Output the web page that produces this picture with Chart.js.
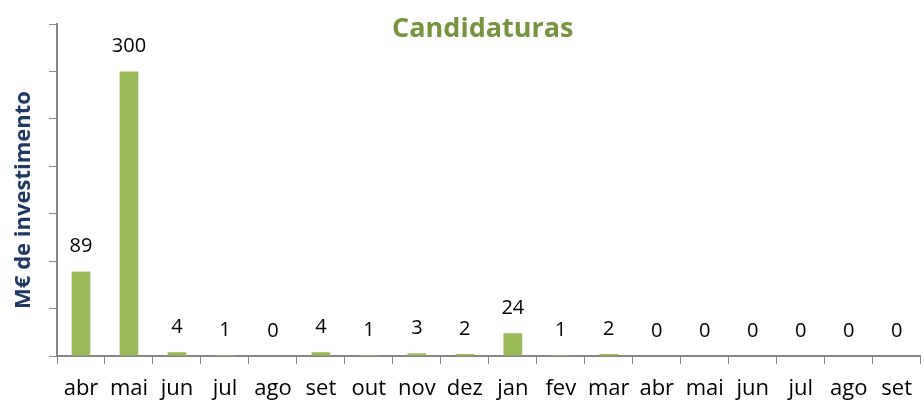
<!DOCTYPE html>
<html><head><meta charset="utf-8">
<script src="https://cdn.jsdelivr.net/npm/chart.js@4/dist/chart.umd.min.js"></script>
<style>html,body{margin:0;padding:0;background:#fff}#wrap{width:924px;height:405px}</style>
</head><body><div id="wrap"><canvas id="c" width="924" height="405"></canvas></div>
<script>
const categories = ["abr","mai","jun","jul","ago","set","out","nov","dez","jan","fev","mar","abr","mai","jun","jul","ago","set"];
const values = [89,300,4,1,0,4,1,3,2,24,1,2,0,0,0,0,0,0];
const yTicks = [0,50,100,150,200,250,300,350];
const titleText = "Candidaturas";
const yTitleText = "M€ de investimento";

const FONT = "'Open Sans', 'Liberation Sans', sans-serif";

const labelsPlugin = {
  id: 'valueLabels',
  afterDatasetsDraw(chart) {
    const ctx = chart.ctx;
    const meta = chart.getDatasetMeta(0);
    ctx.save();
    ctx.fillStyle = '#000';
    ctx.font = "20px " + FONT;
    ctx.textAlign = 'center';
    ctx.textBaseline = 'middle';
    meta.data.forEach((bar, i) => {
      ctx.fillText(String(values[i]), bar.x, bar.y - 25);
    });
    ctx.restore();
  }
};
const titlePlugin = {
  id: 'customTitle',
  afterDraw(chart) {
    const ctx = chart.ctx;
    const a = chart.chartArea;
    ctx.save();
    ctx.fillStyle = '#77933C';
    ctx.font = "bold 27px " + FONT;
    ctx.textAlign = 'center';
    ctx.textBaseline = 'alphabetic';
    ctx.fillText(titleText, (a.left + a.right) / 2 - 6, 37);
    ctx.textBaseline = 'middle';
    ctx.translate(24, 200);
    ctx.rotate(-Math.PI / 2);
    ctx.fillStyle = '#1F3864';
    ctx.font = "bold 22px " + FONT;
    ctx.fillText(yTitleText, 0, 0);
    ctx.restore();
  }
};

new Chart(document.getElementById('c'), {
  type: 'bar',
  data: {
    labels: categories,
    datasets: [{
      data: values,
      backgroundColor: '#9BBB59',
      borderWidth: 0,
      categoryPercentage: 1,
      barPercentage: 0.39
    }]
  },
  options: {
    responsive: false,
    animation: false,
    layout: { padding: { top: 24, right: 0, left: 0, bottom: 0 } },
    plugins: { legend: { display: false }, title: { display: false }, tooltip: { enabled: false } },
    scales: {
      x: {
        offset: true,
        afterFit(scale) { scale.height = 49; },
        grid: { display: true, drawOnChartArea: false, drawTicks: true, tickLength: 8, offset: true, color: '#868686', lineWidth: 1 },
        border: { display: true, color: '#868686', width: 2 },
        ticks: { color: '#000', font: { family: FONT, size: 22 }, padding: 12, maxRotation: 0, autoSkip: false }
      },
      y: {
        min: 0, max: 350,
        afterBuildTicks(scale) { scale.ticks = yTicks.map(v => ({ value: v })); },
        afterFit(scale) { scale.width = 57; },
        grid: { display: true, drawOnChartArea: false, drawTicks: true, tickLength: 8, color: '#868686', lineWidth: 1 },
        border: { display: true, color: '#868686', width: 2 },
        ticks: { display: false }
      }
    }
  },
  plugins: [labelsPlugin, titlePlugin]
});
</script>
</body></html>
